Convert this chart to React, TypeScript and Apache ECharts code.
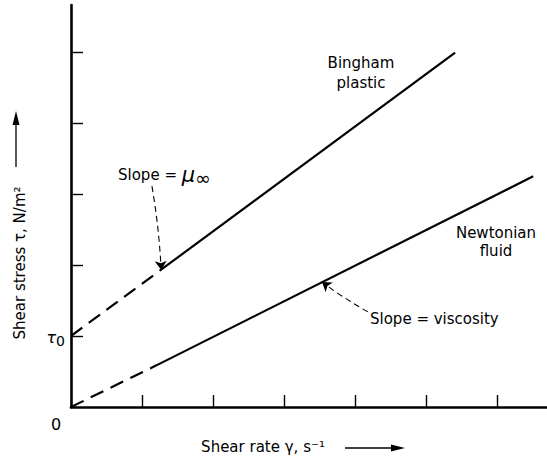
import React, { useEffect, useRef } from 'react';
import * as echarts from 'echarts';

// Bingham plastic line (dashed extrapolation, then solid)
const binghamDashedX = [0, 1.25];
const binghamDashedY = [1.0, 1.92];
const binghamSolidX = [1.25, 5.41];
const binghamSolidY = [1.92, 4.99];
// Newtonian fluid line
const newtonDashedX = [0, 1.21];
const newtonDashedY = [0, 0.59];
const newtonSolidX = [1.21, 6.51];
const newtonSolidY = [0.59, 3.25];
// tick positions
const xTickValues = [1, 2, 3, 4, 5, 6];
const yTickValues = [1, 2, 3, 4, 5];
// annotation arrows (from label to line)
const muArrowX = [1.14, 1.27];
const muArrowY = [3.11, 1.93];
const viscArrowX = [4.18, 3.535];
const viscArrowY = [1.34, 1.76];

const X_MAX = 6.704;
const Y_MAX = 5.662;
const FONT = 'DejaVu Sans';

const zip = (xs: number[], ys: number[]) => xs.map((x, i) => [x, ys[i]]);

export default function App() {
  const ref = useRef<HTMLDivElement>(null);
  useEffect(() => {
    document.body.style.margin = '0';
    const chart = echarts.init(ref.current!, null, { renderer: 'svg' });
    const solid = { color: '#000', width: 2.2, type: 'solid' as const };
    const dashed = { color: '#000', width: 2.2, type: [14, 8] as any };
    const txt = (text: string, x: number, y: number, extra: any = {}) => ({
      type: 'text',
      x,
      y,
      silent: true,
      style: {
        text,
        fontFamily: FONT,
        fontSize: 15,
        fill: '#000',
        align: 'center',
        verticalAlign: 'middle',
        ...extra,
      },
    });
    chart.setOption({
      animation: false,
      backgroundColor: '#fff',
      grid: { left: 71, top: 5, right: 0, bottom: 56, containLabel: false },
      xAxis: {
        type: 'value',
        min: 0,
        max: X_MAX,
        interval: 1,
        axisLine: { show: true, onZero: false, lineStyle: { color: '#000', width: 2.6 } },
        axisTick: { show: true, inside: true, length: 12, customValues: xTickValues, lineStyle: { color: '#000', width: 1.4 } },
        axisLabel: { show: false },
        splitLine: { show: false },
      },
      yAxis: {
        type: 'value',
        min: 0,
        max: Y_MAX,
        interval: 1,
        axisLine: { show: true, onZero: false, lineStyle: { color: '#000', width: 2.6 } },
        axisTick: { show: true, inside: true, length: 12, customValues: yTickValues, lineStyle: { color: '#000', width: 1.4 } },
        axisLabel: { show: false },
        splitLine: { show: false },
      },
      series: [
        { type: 'line', data: zip(binghamDashedX, binghamDashedY), symbol: 'none', lineStyle: dashed, silent: true },
        { type: 'line', data: zip(binghamSolidX, binghamSolidY), symbol: 'none', lineStyle: solid, silent: true },
        { type: 'line', data: zip(newtonDashedX, newtonDashedY), symbol: 'none', lineStyle: dashed, silent: true },
        { type: 'line', data: zip(newtonSolidX, newtonSolidY), symbol: 'none', lineStyle: solid, silent: true },
        {
          type: 'lines',
          coordinateSystem: 'cartesian2d',
          symbol: ['none', 'arrow'],
          symbolSize: 9,
          silent: true,
          lineStyle: { color: '#000', width: 1.1, type: [6, 4], curveness: 0.03, opacity: 1 },
          data: [
            { coords: zip(muArrowX, muArrowY) },
            { coords: zip(viscArrowX, viscArrowY) },
          ],
        },
      ],
      graphic: [
        { ...txt('Shear stress τ, N/m²', 20, 263), rotation: Math.PI / 2 },
        { type: 'line', silent: true, shape: { x1: 16, y1: 167, x2: 16, y2: 122 }, style: { stroke: '#000', lineWidth: 1.3 } },
        { type: 'polygon', silent: true, shape: { points: [[16, 111], [12.5, 125], [19.5, 125]] }, style: { fill: '#000' } },
        txt('Shear rate γ, s⁻¹', 263, 447),
        { type: 'line', silent: true, shape: { x1: 345, y1: 448, x2: 394, y2: 448 }, style: { stroke: '#000', lineWidth: 1.3 } },
        { type: 'polygon', silent: true, shape: { points: [[405, 448], [391, 444.5], [391, 451.5]] }, style: { fill: '#000' } },
        txt('Bingham\nplastic', 361, 73, { lineHeight: 20 }),
        txt('Newtonian\nfluid', 496, 242, { lineHeight: 18 }),
        txt('Slope = viscosity', 370, 319, { align: 'left' }),
        txt('Slope = {m|μ}{i|∞}', 118, 175, {
          align: 'left',
          rich: {
            m: { fontFamily: FONT, fontSize: 21, fontStyle: 'italic', fill: '#000' },
            i: { fontFamily: FONT, fontSize: 19, fill: '#000', padding: [6, 0, 0, 0] },
          },
        }),
        txt('{t|τ}{s|0}', 65, 337, {
          align: 'right',
          rich: {
            t: { fontFamily: FONT, fontSize: 16, fontStyle: 'italic', fill: '#000' },
            s: { fontFamily: FONT, fontSize: 14, fill: '#000', padding: [8, 0, 0, 0] },
          },
        }),
        txt('0', 56, 424, { fontSize: 16 }),
      ],
    });
    return () => chart.dispose();
  }, []);
  return <div ref={ref} style={{ position: 'absolute', left: 0, top: 0, width: 547, height: 463 }} />;
}
